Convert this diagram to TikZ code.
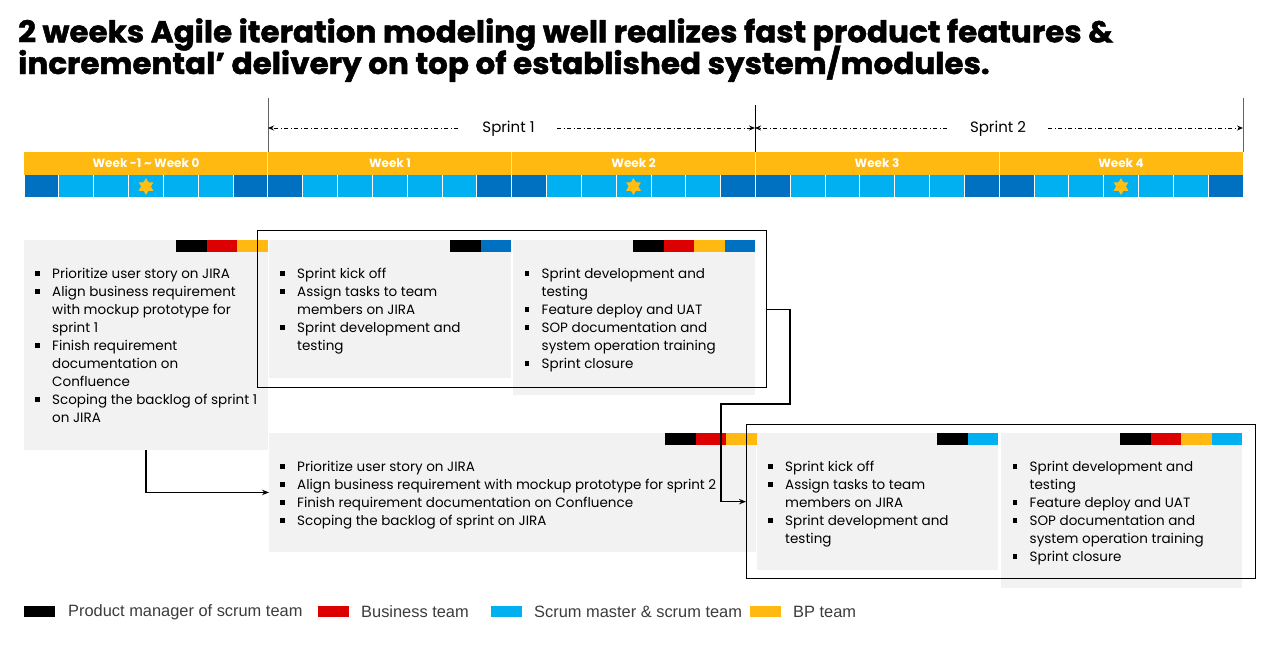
\documentclass[tikz,border=0pt]{standalone}
\usepackage{fontspec}
\setmainfont{Poppins}
\newfontfamily\titlefont[BoldFeatures={FakeBold=1.6}]{Poppins}
\newfontfamily\legendfont{Liberation Sans}
\usetikzlibrary{arrows.meta,shapes.geometric,calc}
\definecolor{agorange}{RGB}{255,185,17}
\definecolor{agstar}{RGB}{255,190,20}
\definecolor{dkblue}{RGB}{0,112,192}
\definecolor{ltblue}{RGB}{0,176,240}
\definecolor{agred}{RGB}{220,0,0}
\definecolor{boxgray}{RGB}{242,242,242}
\definecolor{legendgray}{RGB}{60,60,60}
\definecolor{vgray}{RGB}{100,100,100}
\newcommand\bul{\rule[2.7pt]{4.5pt}{4.5pt}}
\newcommand\teambar[3]{%
  \foreach \c [count=\i from 0] in {#3} {
    \fill[\c] (#1+\i*30.5,#2) rectangle ++(30.5,12);
  }}
\tikzset{
  box/.style={fill=boxgray, draw=none, inner sep=0, anchor=north west},
  framebox/.style={draw=black, line width=1.3pt, fill=none, inner sep=0, anchor=north west},
  bodytext/.style={anchor=north west, inner sep=0, font=\fontsize{13.5}{18}\selectfont},
  conn/.style={line width=1.1pt, -{Stealth[length=7pt,width=5.5pt]}},
  spr/.style={line width=0.8pt, dash pattern=on 4pt off 2.5pt on 1pt off 2.5pt, -{Stealth[length=6pt,width=5pt]}},
  weeklbl/.style={text=white, inner sep=0, font=\fontsize{12}{14}\selectfont\bfseries},
  sprlbl/.style={inner sep=0, font=\fontsize{15}{18}\selectfont},
  titletext/.style={anchor=base west, inner sep=0, font=\titlefont\fontsize{30}{32}\selectfont\bfseries},
  legtext/.style={anchor=west, inner sep=0, text=legendgray, font=\legendfont\fontsize{16.4}{18}\selectfont},
  legsq/.style={anchor=north west, inner sep=0, minimum width=31, minimum height=11},
  starmark/.style={star, star points=6, star point ratio=1.73, fill=agstar, inner sep=0, minimum size=17pt}
}
\begin{document}
\begin{tikzpicture}[x=1pt,y=-1pt]
\useasboundingbox[fill=white] (0,0) rectangle (1280,654);

% title
\node[titletext] (t1) at (18,42.3) {\scalebox{1.035}[1]{2 weeks Agile iteration modeling well realizes fast product features \&}};
\node[titletext] (t2) at (18,74) {\scalebox{1.035}[1]{incremental’ delivery on top of established system/modules.}};

% timeline bars
\fill[agorange] (24,152) rectangle (1243,175);
\foreach \w in {0,...,4} {
  \foreach \i in {0,...,6} {
    \pgfmathsetmacro\xa{24+\w*243.8+\i*34.83}
    \ifnum\i=0 \def\cc{dkblue}\else\ifnum\i=6 \def\cc{dkblue}\else\def\cc{ltblue}\fi\fi
    \fill[\cc] (\xa,175) rectangle ++(34.83,22);
    \draw[white, line width=0.8pt] (\xa,175) -- ++(0,22);
  }
}
\foreach \w in {1,...,4} {
  \draw[white, opacity=0.6, line width=0.8pt] (24+\w*243.8,152) -- (24+\w*243.8,175);
}
\node[weeklbl] (w0) at (146,163.5) {Week -1 \textasciitilde{} Week 0};
\node[weeklbl] (w1) at (390,163.5) {Week 1};
\node[weeklbl] (w2) at (633.5,163.5) {Week 2};
\node[weeklbl] (w3) at (877,163.5) {Week 3};
\node[weeklbl] (w4) at (1121,163.5) {Week 4};
\node[starmark] (st0) at (146,186.5) {};
\node[starmark] (st2) at (633.5,186.5) {};
\node[starmark] (st4) at (1121,186.5) {};

% sprint markers
\draw[vgray, line width=0.9pt] (268,98) -- (268,152);
\draw[black, line width=0.9pt] (755,105) -- (755,152);
\draw[vgray, line width=0.9pt] (1243,98) -- (1243,152);
\coordinate (b1) at (268,128);
\coordinate (b2) at (755,128);
\coordinate (b3) at (1243,128);
\node[sprlbl] (s1) at (508.5,128.5) {Sprint 1};
\node[sprlbl] (s2) at (998,128.5) {Sprint 2};
\coordinate (s1l) at (458,128);
\coordinate (s1r) at (557,128);
\coordinate (s2l) at (947,128);
\coordinate (s2r) at (1048,128);
\draw[spr] (s1l) -- (b1);
\draw[spr] (s1r) -- (b2);
\draw[spr] (s2l) -- (b2);
\draw[spr] (s2r) -- (b3);

% boxes
\node[box, minimum width=243.5, minimum height=210] (A) at (24,240) {};
\node[box, minimum width=242, minimum height=137.5] (B) at (269,240) {};
\node[box, minimum width=242, minimum height=155] (C) at (513,240) {};
\node[box, minimum width=486.5, minimum height=118.5] (D) at (269,433) {};
\node[box, minimum width=241, minimum height=137] (E) at (757,433) {};
\node[box, minimum width=241.5, minimum height=155] (F) at (1000.5,433) {};

\teambar{176}{240}{black,agred,agorange}
\teambar{450}{240}{black,dkblue}
\teambar{633}{240}{black,agred,agorange,dkblue}
\teambar{665}{433}{black,agred,agorange}
\teambar{937}{433}{black,ltblue}
\teambar{1120}{433}{black,agred,agorange,ltblue}

% texts
\node[bodytext] (ta) at (35,265.4) {\begin{tabular}{@{}p{17pt}@{}l@{}}
\bul & Prioritize user story on JIRA\\
\bul & Align business requirement\\
 & with mockup prototype for\\
 & sprint 1\\
\bul & Finish requirement\\
 & documentation on\\
 & Confluence\\
\bul & Scoping the backlog of sprint 1\\
 & on JIRA
\end{tabular}};
\node[bodytext] (tb) at (280,265.4) {\begin{tabular}{@{}p{17pt}@{}l@{}}
\bul & Sprint kick off\\
\bul & Assign tasks to team\\
 & members on JIRA\\
\bul & Sprint development and\\
 & testing
\end{tabular}};
\node[bodytext] (tc) at (524.5,265.4) {\begin{tabular}{@{}p{17pt}@{}l@{}}
\bul & Sprint development and\\
 & testing\\
\bul & Feature deploy and UAT\\
\bul & SOP documentation and\\
 & system operation training\\
\bul & Sprint closure
\end{tabular}};
\node[bodytext] (td) at (280,458.4) {\begin{tabular}{@{}p{17pt}@{}l@{}}
\bul & Prioritize user story on JIRA\\
\bul & Align business requirement with mockup prototype for sprint 2\\
\bul & Finish requirement documentation on Confluence\\
\bul & Scoping the backlog of sprint on JIRA
\end{tabular}};
\node[bodytext] (te) at (768,458.4) {\begin{tabular}{@{}p{17pt}@{}l@{}}
\bul & Sprint kick off\\
\bul & Assign tasks to team\\
 & members on JIRA\\
\bul & Sprint development and\\
 & testing
\end{tabular}};
\node[bodytext] (tf) at (1012.5,458.4) {\begin{tabular}{@{}p{17pt}@{}l@{}}
\bul & Sprint development and\\
 & testing\\
\bul & Feature deploy and UAT\\
\bul & SOP documentation and\\
 & system operation training\\
\bul & Sprint closure
\end{tabular}};

% frames
\node[framebox, minimum width=509, minimum height=157] (f1) at (257,230) {};
\node[framebox, minimum width=509, minimum height=154] (f2) at (746,424) {};

% connectors
\draw[conn] (A.south) |- (D.west);
\coordinate (k1) at (790,404);
\coordinate (k2) at (721,404);
\draw[conn] (f1.east) -| (k1) -- (k2) |- (f2.west);

% legend
\node[legsq, fill=black] (l1) at (24,606) {};
\node[legtext] (l1t) at (68,612) {Product manager of scrum team};
\node[legsq, fill=agred] (l2) at (318,606) {};
\node[legtext] (l2t) at (361,612) {Business team};
\node[legsq, fill=ltblue] (l3) at (491,606) {};
\node[legtext] (l3t) at (534,612) {Scrum master \& scrum team};
\node[legsq, fill=agorange] (l4) at (750,606) {};
\node[legtext] (l4t) at (793,612) {BP team};
\end{tikzpicture}
\end{document}
